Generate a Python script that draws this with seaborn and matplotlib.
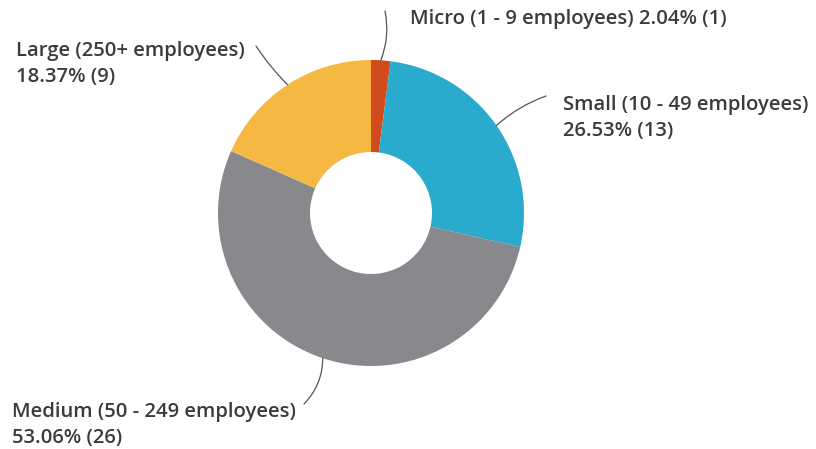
import numpy as np
import matplotlib
matplotlib.use("Agg")
import matplotlib.pyplot as plt
import seaborn as sns

# Company size breakdown
categories = ["Micro (1 - 9 employees)", "Small (10 - 49 employees)",
              "Medium (50 - 249 employees)", "Large (250+ employees)"]
percents = [2.04, 26.53, 53.06, 18.37]
counts = [1, 13, 26, 9]
colors = ["#D24B1C", "#2AAACD", "#88898D", "#F5B843"]

sns.set_theme(style="white")
plt.rcParams["font.family"] = ["Open Sans", "DejaVu Sans"]

W, H = 816, 449
fig = plt.figure(figsize=(W / 100, H / 100), dpi=100)
ax = fig.add_axes([0, 0, 1, 1])

cx, cy, r_out, r_in = 371, H - 213, 153, 61
wedges, _ = ax.pie(counts, colors=colors, startangle=90, counterclock=False,
                   center=(cx, cy), radius=r_out,
                   wedgeprops=dict(width=r_out - r_in, linewidth=0),
                   frame=True)
ax.set_xlim(0, W)
ax.set_ylim(0, H)
ax.set_aspect("equal")
ax.axis("off")

def P(px, py):
    return (px, H - py)

# label text: (position, text); leader end point; curvature
labels = [
    (P(410, 19), f"{categories[0]} {percents[0]:.2f}% ({counts[0]})", P(385, 11), -0.15),
    (P(563, 118), f"{categories[1]}\n{percents[1]:.2f}% ({counts[1]})", P(546, 96), 0.1),
    (P(12, 425), f"{categories[2]}\n{percents[2]:.2f}% ({counts[2]})", P(304, 404), 0.2),
    (P(16, 64), f"{categories[3]}\n{percents[3]:.2f}% ({counts[3]})", P(256, 46), 0.05),
]

for w, (pos, txt, end, rad) in zip(wedges, labels):
    mid = np.deg2rad((w.theta1 + w.theta2) / 2)
    anchor = (cx + r_out * np.cos(mid), cy + r_out * np.sin(mid))
    ax.text(pos[0], pos[1], txt, ha="left", va="center", fontsize=14.6,
            fontweight="semibold", color="#3B3B3B", linespacing=1.36)
    ax.annotate("", xy=anchor, xytext=end,
                arrowprops=dict(arrowstyle="-", color="#555555", lw=0.9,
                                shrinkA=0, shrinkB=0,
                                connectionstyle=f"arc3,rad={rad}"))

fig.savefig("out.png", dpi=100, facecolor="white")
